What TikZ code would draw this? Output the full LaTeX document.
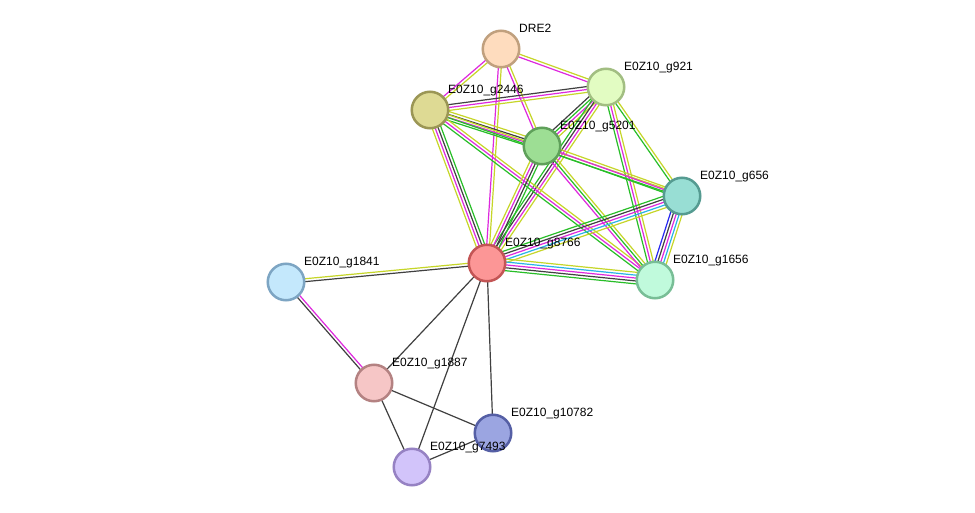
\documentclass[tikz,border=0pt]{standalone}
\usepackage{fontspec}
\setmainfont{Liberation Sans}
\usetikzlibrary{calc,backgrounds}
\definecolor{ctm}{RGB}{198,214,40}
\definecolor{cex}{RGB}{222,40,222}
\definecolor{cco}{RGB}{64,64,64}
\definecolor{cnb}{RGB}{40,190,40}
\definecolor{cdb}{RGB}{40,180,230}
\definecolor{cbl}{RGB}{40,40,240}
\newcommand\strands[4]{%
  \foreach \c [count=\i] in {#4}{%
    \pgfmathsetmacro\off{(\i-(#3+1)/2)*2.9}%
    \draw[\c, line width=1.2pt] ($(#1)!\off pt!90:(#2)$) -- ($(#2)!\off pt!-90:(#1)$);
  }}
\newcommand\prot[5]{% name, x, y, fill, border
  \definecolor{f#1}{RGB}{#4}\definecolor{b#1}{RGB}{#5}%
  \node[prot, fill=f#1, draw=b#1] (#1) at (#2,#3) {};
}
\tikzset{
  prot/.style={circle, minimum size=36.5pt, inner sep=0pt, line width=2.5pt},
  lab/.style={anchor=base west, inner sep=0pt, font=\fontsize{12}{14}\selectfont}
}
\begin{document}
\begin{tikzpicture}[x=1pt,y=-1pt]
\useasboundingbox (0,0) rectangle (975,513);
\prot{dre}{501}{49}{254,220,190}{192,160,126}
\prot{g921}{606}{87}{226,252,194}{162,190,130}
\prot{g2446}{430}{110}{222,218,148}{155,150,85}
\prot{g5201}{542}{146}{157,222,148}{95,160,90}
\prot{g656}{682}{196}{152,222,212}{85,155,145}
\prot{g8766}{487}{263}{252,150,150}{195,85,85}
\prot{g1656}{655}{280}{192,250,220}{120,190,150}
\prot{g1841}{286}{282}{196,232,252}{125,165,195}
\prot{g1887}{374}{383}{246,198,198}{180,130,130}
\prot{g10782}{493}{433}{155,165,225}{85,95,165}
\prot{g7493}{412}{467}{210,196,250}{150,130,195}
\node[lab] (ldre) at ($(dre)+(18,-16.5)$) {DRE2};
\node[lab] (lg921) at ($(g921)+(18,-16.5)$) {E0Z10\_g921};
\node[lab] (lg2446) at ($(g2446)+(18,-16.5)$) {E0Z10\_g2446};
\node[lab] (lg5201) at ($(g5201)+(18,-16.5)$) {E0Z10\_g5201};
\node[lab] (lg656) at ($(g656)+(18,-16.5)$) {E0Z10\_g656};
\node[lab] (lg8766) at ($(g8766)+(18,-16.5)$) {E0Z10\_g8766};
\node[lab] (lg1656) at ($(g1656)+(18,-16.5)$) {E0Z10\_g1656};
\node[lab] (lg1841) at ($(g1841)+(18,-16.5)$) {E0Z10\_g1841};
\node[lab] (lg1887) at ($(g1887)+(18,-16.5)$) {E0Z10\_g1887};
\node[lab] (lg10782) at ($(g10782)+(18,-16.5)$) {E0Z10\_g10782};
\node[lab] (lg7493) at ($(g7493)+(18,-16.5)$) {E0Z10\_g7493};
\begin{pgfonlayer}{background}
\fill[white] (0,0) rectangle (975,513);
\strands{dre}{g2446}{2}{cex,ctm}
\strands{dre}{g921}{2}{cex,ctm}
\strands{dre}{g5201}{2}{cex,ctm}
\strands{dre}{g8766}{2}{cex,ctm}
\strands{g921}{g2446}{3}{cco,cex,ctm}
\strands{g921}{g5201}{4}{cco,cnb,cex,ctm}
\strands{g921}{g8766}{4}{cnb,cco,cex,ctm}
\strands{g921}{g656}{2}{cnb,ctm}
\strands{g921}{g1656}{3}{cnb,cex,ctm}
\strands{g2446}{g5201}{4}{cnb,cex,cco,ctm}
\strands{g2446}{g656}{2}{cnb,ctm}
\strands{g2446}{g8766}{4}{ctm,cex,cco,cnb}
\strands{g2446}{g1656}{3}{cnb,cex,ctm}
\strands{g5201}{g656}{3}{cnb,cex,ctm}
\strands{g5201}{g8766}{4}{ctm,cex,cco,cnb}
\strands{g5201}{g1656}{3}{cex,cnb,ctm}
\strands{g656}{g8766}{5}{cnb,cco,cex,cdb,ctm}
\strands{g656}{g1656}{5}{cbl,cco,cex,cdb,ctm}
\strands{g8766}{g1656}{5}{cnb,cco,cex,cdb,ctm}
\strands{g8766}{g1841}{2}{ctm,cco}
\strands{g1841}{g1887}{2}{cco,cex}
\strands{g8766}{g1887}{1}{cco}
\strands{g8766}{g7493}{1}{cco}
\strands{g8766}{g10782}{1}{cco}
\strands{g1887}{g10782}{1}{cco}
\strands{g1887}{g7493}{1}{cco}
\strands{g7493}{g10782}{1}{cco}
\end{pgfonlayer}
\end{tikzpicture}
\end{document}
